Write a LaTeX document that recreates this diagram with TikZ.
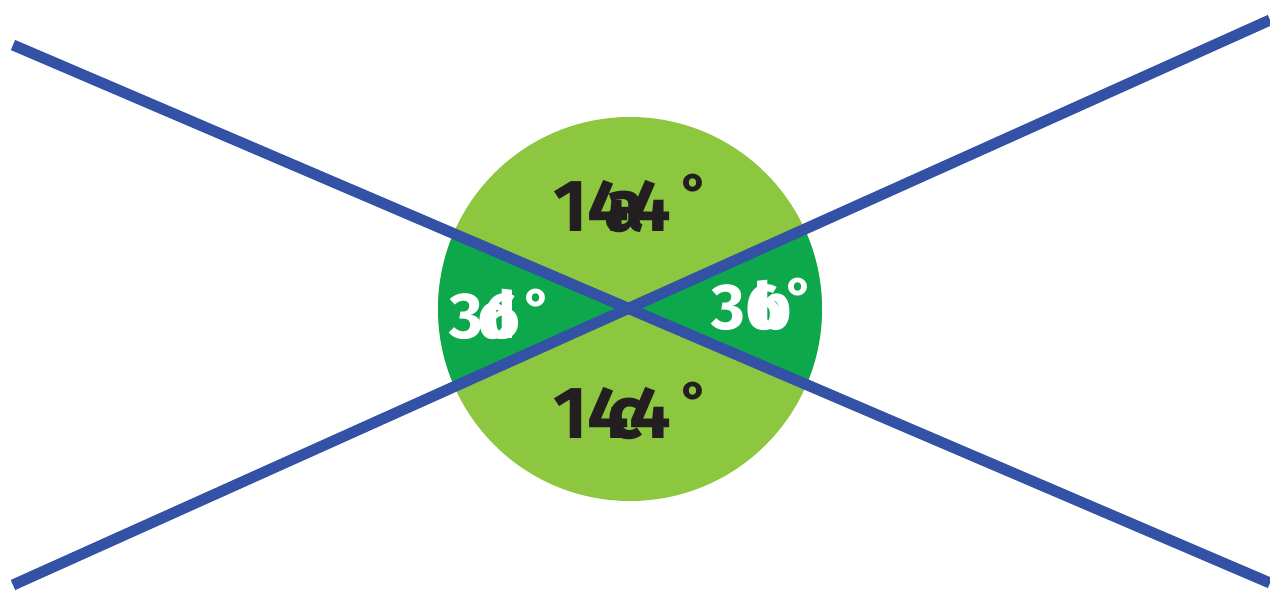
\documentclass[tikz,border=0pt]{standalone}
\usepackage{fontspec}
\setmainfont{Fira Sans}
\usepackage{tikz}
\usetikzlibrary{calc}
\usepackage{xcolor}
\definecolor{lightleaf}{HTML}{8DC63F}
\definecolor{darkleaf}{HTML}{0DA84C}
\definecolor{lineblue}{HTML}{3352A6}
\definecolor{inkdark}{HTML}{231F20}

\begin{document}
\begin{tikzpicture}[x=0.2mm, y=0.2mm,
    angtext/.style={inner sep=0pt, font=\fontsize{#1}{#1}\selectfont\bfseries},
    angtext/.default={42},
    bigval/.style={angtext=42, text=inkdark, anchor=base},
    smallval/.style={angtext=37, text=white, anchor=base},
    degmark/.style={inner sep=0pt, font=\fontsize{30}{30}\selectfont\bfseries, text=#1, anchor=base west},
    degmark/.default={inkdark},
    crossline/.style={line width=2.2mm, draw=lineblue},
]
\useasboundingbox (0,0) rectangle (1270,595);

\coordinate (centre) at (630,286);
\coordinate (upleft) at (13,550);
\coordinate (downright) at (1270,12);
\coordinate (downleft) at (13,10);
\coordinate (upright) at (1270,575);

% ===== DISC =====
\fill[lightleaf] (centre) circle[radius=192];
\fill[darkleaf] (centre) -- ++(156.8:192) arc[start angle=156.8, end angle=204.1, radius=192] -- cycle;
\fill[darkleaf] (centre) -- ++(-23.2:192) arc[start angle=-23.2, end angle=24.1, radius=192] -- cycle;

% ===== LINES =====
\draw[crossline] (upleft) -- (downright);
\draw[crossline] (downleft) -- (upright);

% ===== LABELS =====
\node[bigval] (topval) at (612,363) {144};
\node[bigval] (topvar) at (625,363) {a};
\node[degmark] (topdeg) at (681,383) {°};

\node[bigval] (botval) at (612,157) {144};
\node[bigval] (botvar) at (625,157) {c};
\node[degmark] (botdeg) at (681,176) {°};

\node[smallval] (leftval) at (485,257) {36};
\node[smallval] (leftvar) at (497,257) {d};
\node[degmark=white] (leftdeg) at (524,268) {°};

\node[smallval] (rightval) at (747,265) {36};
\node[smallval] (rightvar) at (773,265) {b};
\node[degmark=white] (rightdeg) at (786,279) {°};

\end{tikzpicture}
\end{document}
